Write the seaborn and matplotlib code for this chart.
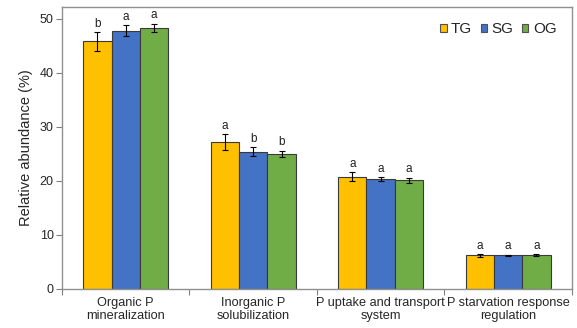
import matplotlib
matplotlib.use("Agg")
import matplotlib.pyplot as plt
from matplotlib.patches import Patch
import seaborn as sns
import pandas as pd
import numpy as np

categories = ["Organic P\nmineralization", "Inorganic P\nsolubilization",
              "P uptake and transport\nsystem", "P starvation response\nregulation"]
groups = ["TG", "SG", "OG"]
tg_vals = [45.8, 27.2, 20.8, 6.2]
sg_vals = [47.8, 25.4, 20.3, 6.2]
og_vals = [48.3, 25.0, 20.1, 6.3]
tg_err = [1.7, 1.4, 0.8, 0.2]
sg_err = [1.0, 0.8, 0.4, 0.15]
og_err = [0.8, 0.6, 0.5, 0.2]
tg_sig = ["b", "a", "a", "a"]
sg_sig = ["a", "b", "a", "a"]
og_sig = ["a", "b", "a", "a"]

colors = ["#FFC000", "#4472C4", "#70AD47"]

rows = []
for g, vals in zip(groups, [tg_vals, sg_vals, og_vals]):
    for c, v in zip(categories, vals):
        rows.append({"category": c, "group": g, "value": v})
df = pd.DataFrame(rows)

sns.set_style("white")
plt.rcParams["font.family"] = ["Liberation Sans", "DejaVu Sans"]

fig = plt.figure(figsize=(5.77, 3.28), dpi=100)
ax = fig.add_axes([0.1075, 0.119, 0.8835, 0.860])

sns.barplot(data=df, x="category", y="value", hue="group", order=categories,
            hue_order=groups, palette=colors, saturation=1, width=0.667,
            edgecolor="#3a3a3a", linewidth=0.8, errorbar=None, legend=False, ax=ax)

errs = [tg_err, sg_err, og_err]
sigs = [tg_sig, sg_sig, og_sig]
for cont, err, sig in zip(ax.containers, errs, sigs):
    for bar, e, s in zip(cont.patches, err, sig):
        x = bar.get_x() + bar.get_width() / 2
        h = bar.get_height()
        ax.errorbar(x, h, yerr=e, fmt="none", ecolor="black", elinewidth=0.8,
                    capsize=2.2, capthick=0.8)
        ax.text(x, h + e + 0.4, s, ha="center", va="bottom", fontsize=8.5,
                color="#202020")

ax.set_ylim(0, 52.2)
ax.set_xlim(-0.5, 3.5)
ax.set_yticks([0, 10, 20, 30, 40, 50])
ax.set_ylabel("Relative abundance (%)", fontsize=10.5, labelpad=5)
ax.set_xlabel("")
ax.set_xticks(range(4))
ax.set_xticklabels(categories, fontsize=9.2, linespacing=1.1)
ax.tick_params(axis="x", which="major", length=0, pad=6)
ax.set_xticks([-0.5, 0.5, 1.5, 2.5, 3.5], minor=True)
ax.tick_params(axis="x", which="minor", length=4, width=0.8, color="#808080",
               direction="out", bottom=True)
ax.tick_params(axis="y", length=4, width=0.8, color="#808080", direction="out",
               left=True, labelsize=9, pad=2)
for sp in ax.spines.values():
    sp.set_color("#909090")
    sp.set_linewidth(1.0)

handles = [Patch(facecolor=c, edgecolor="#505050", linewidth=0.8) for c in colors]
ax.legend(handles, groups, loc="upper right", ncol=3, frameon=False,
          fontsize=11, handlelength=0.42, handleheight=0.42,
          handletextpad=0.3, columnspacing=0.55, borderaxespad=0.6)

fig.savefig("out.png", dpi=100)
